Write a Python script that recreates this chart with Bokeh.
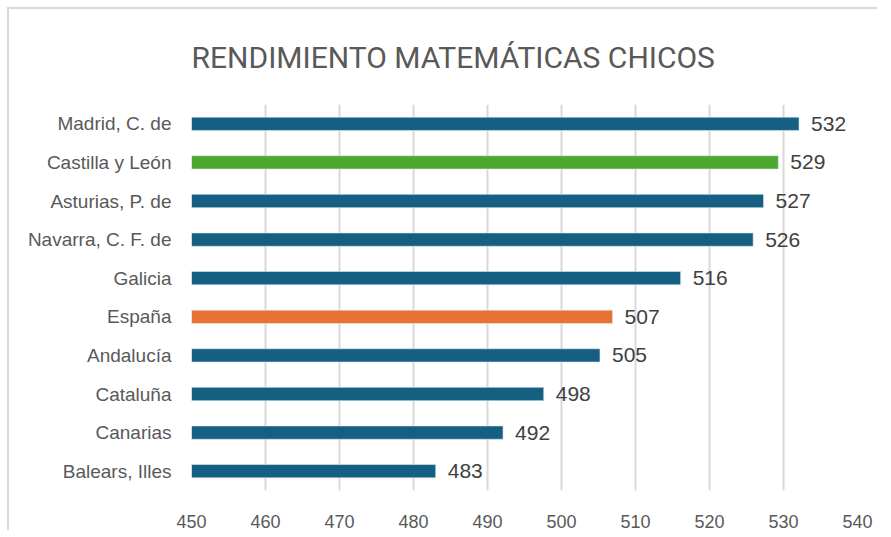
from bokeh.plotting import figure
from bokeh.models import FactorRange, Range1d, ColumnDataSource, FixedTicker, Title
from bokeh.embed import file_html
from bokeh.resources import INLINE
from bokeh.core.properties import value

regions = ["Madrid, C. de", "Castilla y León", "Asturias, P. de", "Navarra, C. F. de",
           "Galicia", "España", "Andalucía", "Cataluña", "Canarias", "Balears, Illes"]
scores = [532.1, 529.3, 527.3, 525.9, 516.1, 506.9, 505.2, 497.6, 492.1, 483.0]
x_ticks = [450, 460, 470, 480, 490, 500, 510, 520, 530, 540]
title_text = "RENDIMIENTO MATEMÁTICAS CHICOS"

BLUE, GREEN, ORANGE = "#156082", "#4EA72E", "#E97132"
colors = [GREEN if r == "Castilla y León" else ORANGE if r == "España" else BLUE for r in regions]
labels = [str(int(round(v))) for v in scores]

src = ColumnDataSource(dict(region=regions, score=scores, color=colors, label=labels,
                            left=[x_ticks[0]] * len(regions)))

p = figure(y_range=FactorRange(factors=regions[::-1]), x_range=Range1d(x_ticks[0], x_ticks[-1]),
           frame_width=666, frame_height=386, min_border_left=182, min_border_right=20,
           min_border_top=95, min_border_bottom=36,
           output_backend="svg", toolbar_location=None)
p.styles = {"border-left": "2px solid #d9d9d9", "border-top": "2px solid #d9d9d9",
            "margin-top": "7px", "margin-left": "7px"}

p.hbar(y="region", left="left", right="score", height=0.345, fill_color="color",
       line_color="#dfe9ef", line_width=0.6, source=src)
p.text(x="score", y="region", text="label", x_offset=12, text_baseline="middle",
       text_align="left", text_font=value("Liberation Sans"), text_font_size="21px",
       text_color="#404040", source=src)

p.title = Title(text=title_text, align="left", offset=0, vertical_align="top",
                standoff=56, text_font="Roboto", text_font_size="30px",
                text_font_style="normal", text_color="#595959")

p.outline_line_color = None
p.background_fill_color = "white"
p.border_fill_color = "white"
p.ygrid.grid_line_color = None
p.xgrid.grid_line_color = "#d9d9d9"
p.xgrid.grid_line_width = 2
p.xaxis.ticker = FixedTicker(ticks=x_ticks)

for ax in (p.xaxis[0], p.yaxis[0]):
    ax.axis_line_color = None
    ax.major_tick_line_color = None
    ax.minor_tick_line_color = None
    ax.major_label_text_color = "#595959"

p.xaxis.major_label_text_font = "Liberation Sans"
p.xaxis.major_label_text_font_size = "18px"
p.xaxis.major_label_standoff = 18
p.yaxis.major_label_text_font = "Liberation Sans"
p.yaxis.major_label_text_font_size = "19px"
p.yaxis.major_label_standoff = 14

open("out.html", "w").write(file_html(p, INLINE))
